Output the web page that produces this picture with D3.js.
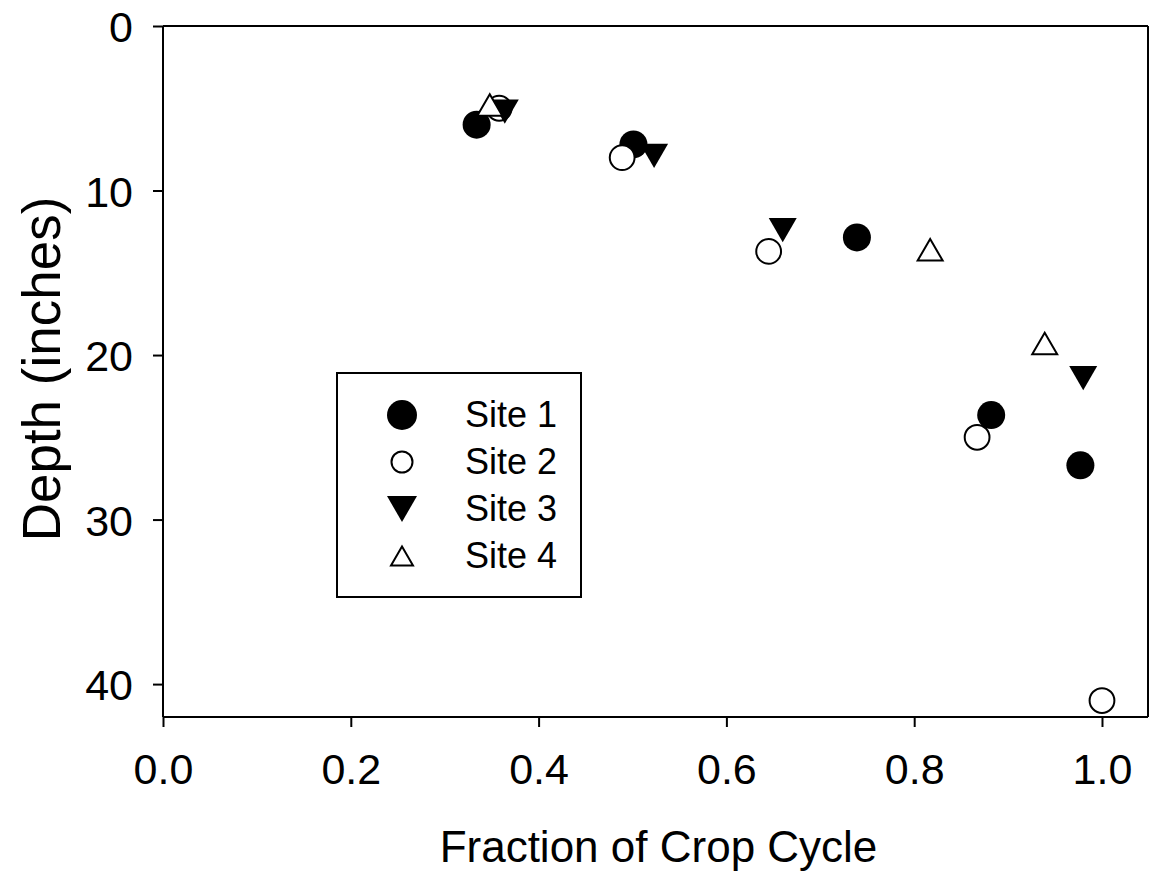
<!DOCTYPE html>
<html>
<head>
<meta charset="utf-8">
<script src="https://cdn.jsdelivr.net/npm/d3@7"></script>
<style>
  html, body { margin: 0; padding: 0; background: #fff; }
  svg { display: block; font-family: "Liberation Sans", Arial, sans-serif; }
</style>
</head>
<body>
<svg id="chart" width="1149" height="872"></svg>
<script>
// Rooting depth over the crop cycle at four sites
const site1X = [0.334, 0.501, 0.739, 0.882, 0.977];
const site1Y = [6.0, 7.2, 12.85, 23.65, 26.7];
const site2X = [0.358, 0.489, 0.645, 0.867, 1.0];
const site2Y = [5.0, 8.0, 13.7, 25.0, 41.0];
const site3X = [0.364, 0.523, 0.660, 0.980];
const site3Y = [5.2, 7.9, 12.4, 21.4];
const site4X = [0.348, 0.817, 0.939];
const site4Y = [4.8, 13.6, 19.3];

const seriesNames = ["Site 1", "Site 2", "Site 3", "Site 4"];
const xTicks = [0.0, 0.2, 0.4, 0.6, 0.8, 1.0];
const yTicks = [0, 10, 20, 30, 40];

const svg = d3.select("#chart");
const plotL = 163, plotT = 26, plotR = 1148, plotB = 717;

const x = d3.scaleLinear().domain([0, 1.049]).range([plotL, plotR]);
const y = d3.scaleLinear().domain([0, 42]).range([plotT, plotB]);

// symbol paths, centred on their bounding box
const tri = (s, down) => {
  const h = s * Math.sqrt(3) / 2;
  return down
    ? `M${-s/2},${-h/2}L${s/2},${-h/2}L0,${h/2}Z`
    : `M${-s/2},${h/2}L${s/2},${h/2}L0,${-h/2}Z`;
};
const styles = [
  { kind: "circle", r: 14, fill: "#000", stroke: "none", lr: 15 },
  { kind: "circle", r: 12.4, fill: "#fff", stroke: "#000", lr: 10.5 },
  { kind: "down", s: 28, fill: "#000", stroke: "none", ls: 30 },
  { kind: "up", s: 25, fill: "#fff", stroke: "#000", ls: 22 }
];

const series = [
  site1X.map((v, i) => [v, site1Y[i]]),
  site2X.map((v, i) => [v, site2Y[i]]),
  site3X.map((v, i) => [v, site3Y[i]]),
  site4X.map((v, i) => [v, site4Y[i]])
];

// frame
const g = svg.append("g");
g.append("line").attr("x1", plotR).attr("x2", plotR).attr("y1", plotT).attr("y2", plotB)
  .attr("stroke", "#000").attr("stroke-width", 2);
g.append("line").attr("x1", plotL).attr("x2", plotR).attr("y1", plotT).attr("y2", plotT)
  .attr("stroke", "#000").attr("stroke-width", 2);

// axes
const xAxis = d3.axisBottom(x).tickValues(xTicks).tickFormat(d3.format(".1f"))
  .tickSizeInner(10).tickSizeOuter(0).tickPadding(26);
const yAxis = d3.axisLeft(y).tickValues(yTicks).tickFormat(d3.format("d"))
  .tickSizeInner(10).tickSizeOuter(0).tickPadding(20);

const gx = svg.append("g").attr("transform", `translate(0,${plotB})`).call(xAxis);
const gy = svg.append("g").attr("transform", `translate(${plotL},0)`).call(yAxis);
[gx, gy].forEach(a => {
  a.select(".domain").attr("stroke-width", 2);
  a.selectAll(".tick line").attr("stroke-width", 2);
  a.selectAll("text").attr("font-size", 43).attr("fill", "#000")
    .attr("font-family", "Liberation Sans, Arial, sans-serif");
});
gx.select(".domain").attr("d", `M${plotL},0H${plotR}`);
gy.select(".domain").attr("d", `M0,${plotT}V${plotB}`);
gy.selectAll("text").attr("dy", "0.36em");

// axis titles
svg.append("text").attr("x", (x(0) + x(1)) / 2 + 26).attr("y", 862)
  .attr("text-anchor", "middle").attr("font-size", 44).text("Fraction of Crop Cycle");
svg.append("text").attr("transform", `translate(60,${369}) rotate(-90)`)
  .attr("text-anchor", "middle").attr("font-size", 53).text("Depth (inches)");

// markers
function drawSymbol(sel, st, big) {
  if (st.kind === "circle") {
    sel.append("circle").attr("r", big ? st.r : st.lr)
      .attr("fill", st.fill).attr("stroke", st.stroke).attr("stroke-width", 2);
  } else {
    sel.append("path").attr("d", tri(big ? st.s : st.ls, st.kind === "down"))
      .attr("fill", st.fill).attr("stroke", st.stroke).attr("stroke-width", 2)
      .attr("stroke-linejoin", "miter");
  }
}

series.forEach((pts, si) => {
  const sg = svg.append("g");
  pts.forEach(p => {
    const m = sg.append("g").attr("transform", `translate(${x(p[0])},${y(p[1])})`);
    drawSymbol(m, styles[si], true);
  });
});

// legend
const lg = svg.append("g");
lg.append("rect").attr("x", 337).attr("y", 373).attr("width", 244).attr("height", 224)
  .attr("fill", "#fff").attr("stroke", "#000").attr("stroke-width", 2);
seriesNames.forEach((name, i) => {
  const cy = 415 + i * 47;
  const m = lg.append("g").attr("transform", `translate(402,${cy})`);
  drawSymbol(m, styles[i], false);
  lg.append("text").attr("x", 465).attr("y", cy + 12).attr("font-size", 36).text(name);
});
</script>
</body>
</html>
